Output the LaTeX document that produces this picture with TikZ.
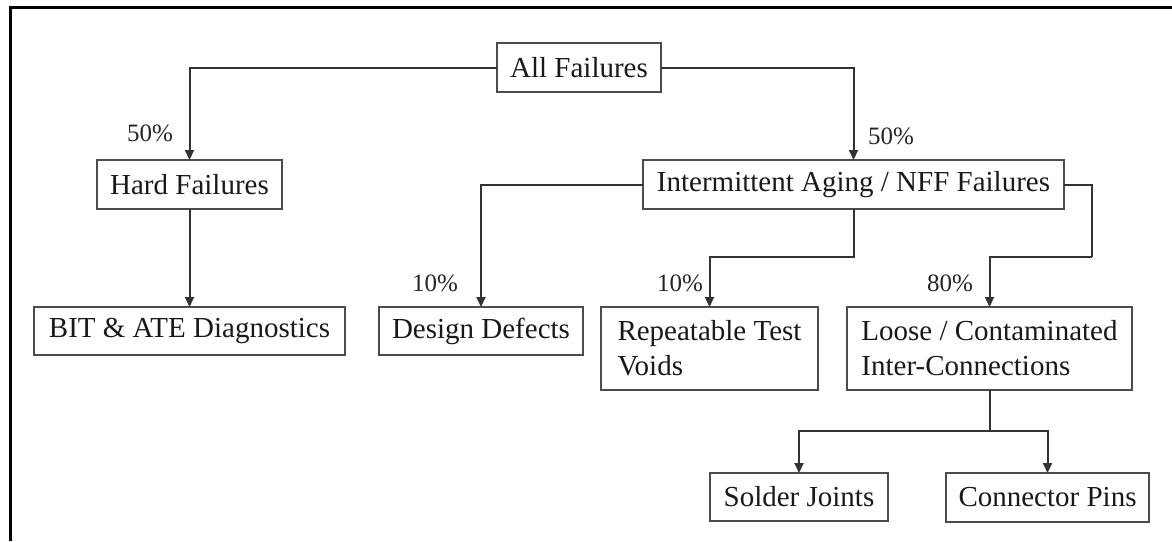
\documentclass[tikz,border=0pt]{standalone}
\usepackage{fontspec}
\setmainfont{Liberation Serif}
\usetikzlibrary{arrows.meta}
\begin{document}
\begin{tikzpicture}[x=0.5pt,y=-0.5pt,
  box/.style={draw=black!70,line width=1pt,fill=white,inner sep=0pt,outer sep=0pt,
    font=\fontsize{14.5}{17.5}\selectfont,align=left,text=black!90},
  link/.style={draw=black!80,line width=1pt,-{Triangle[length=5pt,width=4.5pt]}},
  plain/.style={draw=black!80,line width=1pt},
  pct/.style={font=\fontsize{12.5}{14}\selectfont,text=black!85,inner sep=0pt}]
\useasboundingbox (0,0) rectangle (1172,541);
% frame edges
\draw[line width=1.2pt] (10.5,541) -- (10.5,7.5) -- (1172,7.5);

% boxes
\node[box,minimum width=82pt,minimum height=24.5pt] (all) at (579,67.5) {All Failures};
\node[box,minimum width=92.5pt,minimum height=24.5pt] (hard) at (189.5,184.5) {Hard Failures};
\node[box,minimum width=210.5pt,minimum height=24.5pt] (inter) at (853.5,184.5) {Intermittent Aging / NFF Failures};
\node[box,minimum width=155.5pt,minimum height=24pt] (bit) at (189.5,331) {BIT \& ATE Diagnostics};
\node[box,minimum width=102pt,minimum height=24pt] (design) at (481,331) {Design Defects};
\node[box,minimum width=108.5pt,minimum height=41.5pt] (rep) at (709.5,348.5) {Repeatable Test\\Voids};
\node[box,minimum width=142.5pt,minimum height=41.5pt] (loose) at (989.5,348.5) {Loose / Contaminated\\Inter-Connections};
\node[box,minimum width=89pt,minimum height=24pt] (solder) at (799,497) {Solder Joints};
\node[box,minimum width=101.5pt,minimum height=24.5pt] (pins) at (1047.5,497.5) {Connector Pins};

% bend points
\coordinate (rjog) at (1092,257);
\coordinate (split) at (989.5,431);

% connectors
\draw[link] (all.west) -| (hard.north);
\draw[link] (all.east) -| (inter.north);
\draw[link] (hard.south) -- (bit.north -| hard.south);
\draw[link] (inter.west) -| (design.north);
\draw[link] (inter.south) -- ++(0,48) -| (rep.north);
\draw[plain] (inter.east) -| (rjog);
\draw[link] (rjog) -| (loose.north);
\draw[plain] (loose.south) -- (split);
\draw[link] (split) -| (solder.north);
\draw[link] (split) -| (pins.north);

% branch shares
\node[pct] (p1) at (150,133) {50\%};
\node[pct] (p2) at (891,136) {50\%};
\node[pct] (p3) at (435,283) {10\%};
\node[pct] (p4) at (680,283) {10\%};
\node[pct] (p5) at (950,283) {80\%};
\end{tikzpicture}
\end{document}
